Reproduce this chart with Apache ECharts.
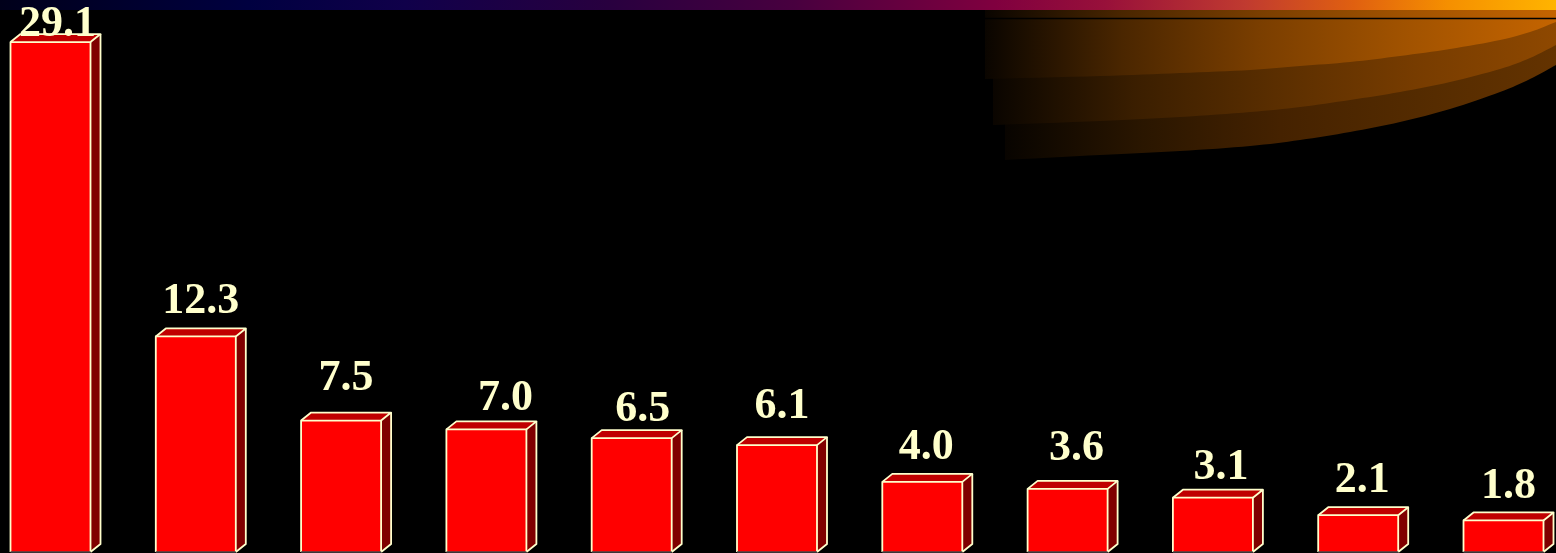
<!DOCTYPE html>
<html>
<head>
<meta charset="utf-8">
<style>
  html, body { margin: 0; padding: 0; background: #000; }
  #chart { width: 1556px; height: 553px; }
</style>
<script src="https://cdn.jsdelivr.net/npm/echarts@6/dist/echarts.min.js"></script>
</head>
<body>
<div id="chart"></div>
<script>
// ---- data ----
const categories = ['1', '2', '3', '4', '5', '6', '7', '8', '9', '10', '11'];
const values = [29.1, 12.3, 7.5, 7.0, 6.5, 6.1, 4.0, 3.6, 3.1, 2.1, 1.8];
const valueLabels = ['29.1', '12.3', '7.5', '7.0', '6.5', '6.1', '4.0', '3.6', '3.1', '2.1', '1.8'];
// small per-label offsets [dx, dy] (px) as seen in the original slide
const labelNudge = [[2, 18], [0, 0], [0, -7], [14, 4], [6, 7], [0, -3], [-1, 1], [4, -5], [3, 5], [-1, 0], [0, 1]];

// ---- style ----
const CREAM = '#FFFFCC';
const FRONT = '#FF0000';
const TOPC = '#C00000';
const SIDE = '#800000';
const HALF = 40, DX = 10, DY = 8;

const chart = echarts.init(document.getElementById('chart'), null, { renderer: 'canvas' });

// Catmull-Rom smoothing of the decorative swoosh edge
function smoothPts(pts, steps) {
  const out = [];
  for (let i = 0; i < pts.length - 1; i++) {
    const p0 = pts[Math.max(i - 1, 0)], p1 = pts[i], p2 = pts[i + 1], p3 = pts[Math.min(i + 2, pts.length - 1)];
    for (let s = 0; s < steps; s++) {
      const t = s / steps, t2 = t * t, t3 = t2 * t;
      const f = (a, b, c, d) => 0.5 * ((2 * b) + (-a + c) * t + (2 * a - 5 * b + 4 * c - d) * t2 + (-a + 3 * b - 3 * c + d) * t3);
      out.push([f(p0[0], p1[0], p2[0], p3[0]), f(p0[1], p1[1], p2[1], p3[1])]);
    }
  }
  out.push(pts[pts.length - 1]);
  return out;
}

function swoosh(pts, leftX, topY, stops) {
  const poly = [[leftX, topY], [1556, topY]].concat(smoothPts(pts, 8));
  return {
    type: 'polygon', z: 1, silent: true,
    shape: { points: poly },
    style: { fill: new echarts.graphic.LinearGradient(0, 0, 1, 0, stops) }
  };
}

const layer3 = swoosh([[1556,65],[1530,79],[1500,92],[1450,109],[1400,122],[1350,132],[1300,140],[1250,146],[1180,151],[1100,155],[1005,160]], 1005, 10,
  [{offset:0,color:'#080400'},{offset:0.25,color:'#2a1600'},{offset:0.5,color:'#452200'},{offset:0.75,color:'#542b00'},{offset:1,color:'#643300'}]);
const layer2 = swoosh([[1556,45],[1530,58],[1500,69],[1450,82],[1400,92],[1350,100],[1300,107],[1250,112],[1180,117],[1100,121],[993,125]], 993, 10,
  [{offset:0,color:'#0a0500'},{offset:0.25,color:'#3a1e00'},{offset:0.5,color:'#5a2e00'},{offset:0.75,color:'#773c00'},{offset:1,color:'#8e4800'}]);
const layer1 = swoosh([[1556,22],[1530,32],[1500,40],[1450,49],[1400,56],[1350,62],[1300,66],[1250,70],[1180,73],[1100,76],[985,79]], 985, 10,
  [{offset:0,color:'#0a0500'},{offset:0.24,color:'#4a2600'},{offset:0.48,color:'#7a3e00'},{offset:0.73,color:'#a05200'},{offset:1,color:'#c46400'}]);

const option = {
  backgroundColor: '#000000',
  animation: false,
  grid: { left: 50.5, right: 52.5, top: 0, bottom: 1 },
  xAxis: {
    type: 'category', data: categories, boundaryGap: false,
    show: false
  },
  yAxis: { type: 'value', min: 0, max: 31.5, show: false },
  graphic: [
    {
      type: 'rect', z: 2, silent: true,
      shape: { x: 0, y: 0, width: 1556, height: 10 },
      style: {
        fill: new echarts.graphic.LinearGradient(0, 0, 1, 0, [
          { offset: 0, color: '#00001a' },
          { offset: 0.16, color: '#000040' },
          { offset: 0.26, color: '#10004a' },
          { offset: 0.39, color: '#28003f' },
          { offset: 0.51, color: '#48003f' },
          { offset: 0.64, color: '#80003f' },
          { offset: 0.71, color: '#98103a' },
          { offset: 0.80, color: '#c03a30' },
          { offset: 0.87, color: '#e06010' },
          { offset: 0.93, color: '#f58f00' },
          { offset: 1, color: '#ffb400' }
        ])
      }
    },
    layer3, layer2, layer1,
    {
      type: 'line', z: 2, silent: true,
      shape: { x1: 985, y1: 18.5, x2: 1556, y2: 18.5 },
      style: { stroke: '#000000', lineWidth: 1.6 }
    }
  ],
  series: [{
    type: 'custom',
    z: 5,
    data: values.map((v, i) => [i, v]),
    renderItem: function (params, api) {
      const i = params.dataIndex;
      const top = api.coord([api.value(0), api.value(1)]);
      const base = api.coord([api.value(0), 0]);
      const L = top[0] - HALF, R = top[0] + HALF, T = top[1], B = base[1];
      const nd = labelNudge[i] || [0, 0];
      const lx = (L + R + DX) / 2 + nd[0];
      const ly = T - DY - 12 - 15 + nd[1];
      const edge = { stroke: CREAM, lineWidth: 1.8, fill: null, lineJoin: 'round' };
      return {
        type: 'group',
        children: [
          { type: 'polygon', shape: { points: [[L, T], [R, T], [R, B], [L, B]] }, style: { fill: FRONT } },
          { type: 'polygon', shape: { points: [[L, T], [L + DX, T - DY], [R + DX, T - DY], [R, T]] }, style: { fill: TOPC } },
          { type: 'polygon', shape: { points: [[R, T], [R + DX, T - DY], [R + DX, B - DY], [R, B]] }, style: { fill: SIDE } },
          { type: 'polyline', shape: { points: [[L, B], [L, T], [R, T], [R, B]] }, style: edge },
          { type: 'polyline', shape: { points: [[L, T], [L + DX, T - DY], [R + DX, T - DY], [R, T]] }, style: edge },
          { type: 'polyline', shape: { points: [[R + DX, T - DY], [R + DX, B - DY], [R, B]] }, style: edge },
          { type: 'line', shape: { x1: L, y1: B, x2: R, y2: B }, style: { stroke: '#4a4a4a', lineWidth: 1.5 } },
          {
            type: 'text',
            style: {
              text: valueLabels[i], x: lx, y: ly,
              fill: CREAM, align: 'center', verticalAlign: 'middle',
              font: 'bold 44px "Liberation Serif", "Times New Roman", serif'
            }
          }
        ]
      };
    }
  }]
};
chart.setOption(option);
</script>
</body>
</html>
